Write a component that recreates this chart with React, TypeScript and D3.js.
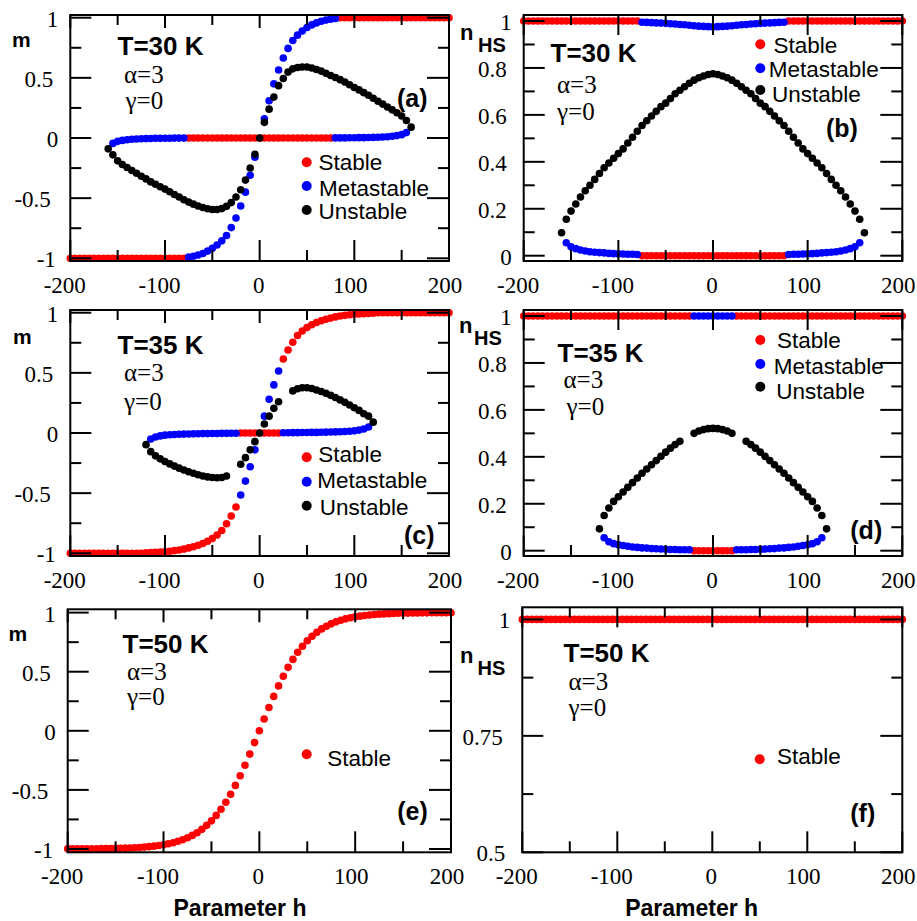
import React from "react";
import * as d3 from "d3";

type Pt = [number, number];
type Seg = [number, number, number];

const H_STEP = 5;
const X_DOMAIN: [number, number] = [-200, 200];
const X_MAJOR = [-200, -100, 0, 100, 200];
const X_MINOR = [-150, -50, 50, 150];
const M_MAJOR = [-1, -0.5, 0, 0.5, 1];
const M_MINOR = [-0.75, -0.25, 0.25, 0.75];
const N_MAJOR = [0, 0.2, 0.4, 0.6, 0.8, 1];
const N_MINOR = [0.1, 0.3, 0.5, 0.7, 0.9];
const NF_MAJOR = [0.5, 0.75, 1];
const NF_MINOR = [0.625, 0.875];

// ---------- (a) T=30 K, m ----------
const aStableFlat: Seg[] = [[-200, -80, -1], [-75, 75, 0], [85, 200, 1]];
const aMetaPts: Pt[] = [
  [-155, -0.045], [-150, -0.028], [-145, -0.02], [-140, -0.014], [-135, -0.011], [-130, -0.008], [-125, -0.006], [-120, -0.005], [-115, -0.004], [-110, -0.003], [-105, -0.003], [-100, -0.002], [-95, -0.002], [-90, -0.001], [-85, -0.001], [-80, -0.001],
  [-75, -0.99], [-70, -0.983], [-65, -0.973], [-60, -0.96], [-55, -0.94], [-50, -0.917], [-45, -0.89], [-40, -0.855], [-35, -0.81], [-30, -0.745], [-25, -0.665], [-20, -0.565], [-15, -0.45], [-10, -0.31], [-5, -0.16],
  [5, 0.16], [10, 0.31], [15, 0.45], [20, 0.565], [25, 0.665], [30, 0.745], [35, 0.81], [40, 0.855], [45, 0.89], [50, 0.918], [55, 0.94], [60, 0.957], [65, 0.97], [70, 0.98], [75, 0.988], [80, 0.994],
  [80, 0.001], [85, 0.001], [90, 0.001], [95, 0.002], [100, 0.002], [105, 0.003], [110, 0.003], [115, 0.004], [120, 0.005], [125, 0.006], [130, 0.008], [135, 0.011], [140, 0.014], [145, 0.02], [150, 0.028], [155, 0.045],
];
const aUnstablePts: Pt[] = [
  [-160, -0.09], [-155, -0.14], [-150, -0.19], [-145, -0.22], [-140, -0.245], [-135, -0.27], [-130, -0.293], [-125, -0.318], [-120, -0.34], [-115, -0.365], [-110, -0.385], [-105, -0.405], [-100, -0.425], [-95, -0.447], [-90, -0.47], [-85, -0.49], [-80, -0.513], [-75, -0.533], [-70, -0.55], [-65, -0.565], [-60, -0.578], [-55, -0.588], [-50, -0.594], [-45, -0.595], [-40, -0.587], [-35, -0.568], [-30, -0.537], [-25, -0.49], [-20, -0.43], [-15, -0.35], [-10, -0.25], [-5, -0.135], [0, 0],
  [5, 0.13], [10, 0.24], [15, 0.34], [20, 0.435], [25, 0.495], [30, 0.548], [35, 0.575], [40, 0.586], [45, 0.59], [50, 0.59], [55, 0.582], [60, 0.57], [65, 0.556], [70, 0.538], [75, 0.52], [80, 0.503], [85, 0.485], [90, 0.465], [95, 0.443], [100, 0.42], [105, 0.4], [110, 0.377], [115, 0.355], [120, 0.33], [125, 0.306], [130, 0.282], [135, 0.258], [140, 0.234], [145, 0.21], [150, 0.183], [155, 0.145], [160, 0.09],
];

// ---------- (b) T=30 K, nHS ----------
const bStableFlat: Seg[] = [[-200, -80, 1], [80, 200, 1], [-75, 75, 0]];
const bMetaPts: Pt[] = [
  [-75, 0.995], [-70, 0.994], [-65, 0.993], [-60, 0.992], [-55, 0.991], [-50, 0.99], [-45, 0.988], [-40, 0.987], [-35, 0.985], [-30, 0.984], [-25, 0.982], [-20, 0.98], [-15, 0.978], [-10, 0.977], [-5, 0.976], [0, 0.975],
  [5, 0.976], [10, 0.977], [15, 0.978], [20, 0.98], [25, 0.982], [30, 0.984], [35, 0.985], [40, 0.987], [45, 0.988], [50, 0.99], [55, 0.991], [60, 0.992], [65, 0.993], [70, 0.994], [75, 0.995],
  [-155, 0.055], [-150, 0.038], [-145, 0.03], [-140, 0.024], [-135, 0.02], [-130, 0.017], [-125, 0.015], [-120, 0.013], [-115, 0.012], [-110, 0.01], [-105, 0.009], [-100, 0.008], [-95, 0.007], [-90, 0.006], [-85, 0.006], [-80, 0.005],
  [80, 0.005], [85, 0.006], [90, 0.006], [95, 0.007], [100, 0.008], [105, 0.009], [110, 0.01], [115, 0.012], [120, 0.013], [125, 0.015], [130, 0.017], [135, 0.02], [140, 0.024], [145, 0.03], [150, 0.038], [155, 0.055],
];
const bUnstablePts: Pt[] = [
  [-160, 0.098], [-155, 0.155], [-150, 0.19], [-145, 0.22], [-140, 0.25], [-135, 0.277], [-130, 0.3], [-125, 0.325], [-120, 0.35], [-115, 0.375], [-110, 0.395], [-105, 0.415], [-100, 0.435], [-95, 0.455], [-90, 0.48], [-85, 0.505], [-80, 0.53], [-75, 0.555], [-70, 0.575], [-65, 0.595], [-60, 0.615], [-55, 0.635], [-50, 0.65], [-45, 0.67], [-40, 0.69], [-35, 0.705], [-30, 0.72], [-25, 0.735], [-20, 0.748], [-15, 0.758], [-10, 0.766], [-5, 0.772], [0, 0.775],
  [5, 0.772], [10, 0.766], [15, 0.758], [20, 0.748], [25, 0.735], [30, 0.72], [35, 0.705], [40, 0.69], [45, 0.67], [50, 0.65], [55, 0.635], [60, 0.615], [65, 0.595], [70, 0.575], [75, 0.555], [80, 0.53], [85, 0.505], [90, 0.48], [95, 0.455], [100, 0.435], [105, 0.415], [110, 0.395], [115, 0.375], [120, 0.35], [125, 0.325], [130, 0.3], [135, 0.277], [140, 0.25], [145, 0.22], [150, 0.19], [155, 0.155], [160, 0.098],
];

// ---------- (c) T=35 K, m ----------
const cStableFlat: Seg[] = [[-200, -125, -1], [-20, 20, 0], [125, 200, 1]];
const cStablePts: Pt[] = [
  [-120, -0.995], [-115, -0.994], [-110, -0.992], [-105, -0.99], [-100, -0.987], [-95, -0.983], [-90, -0.978], [-85, -0.972], [-80, -0.965], [-75, -0.955], [-70, -0.945], [-65, -0.933], [-60, -0.918], [-55, -0.9], [-50, -0.877], [-45, -0.848], [-40, -0.81], [-35, -0.755], [-30, -0.69], [-25, -0.615],
  [25, 0.615], [30, 0.69], [35, 0.755], [40, 0.81], [45, 0.848], [50, 0.877], [55, 0.9], [60, 0.918], [65, 0.933], [70, 0.945], [75, 0.955], [80, 0.965], [85, 0.972], [90, 0.978], [95, 0.983], [100, 0.987], [105, 0.99], [110, 0.992], [115, 0.994], [120, 0.995],
];
const cMetaPts: Pt[] = [
  [-20, -0.515], [-15, -0.4], [-10, -0.28], [-5, -0.14], [5, 0.14], [10, 0.28], [15, 0.4], [20, 0.515],
  [-115, -0.05], [-110, -0.033], [-105, -0.024], [-100, -0.018], [-95, -0.014], [-90, -0.012], [-85, -0.01], [-80, -0.009], [-75, -0.008], [-70, -0.007], [-65, -0.006], [-60, -0.005], [-55, -0.005], [-50, -0.004], [-45, -0.004], [-40, -0.003], [-35, -0.003], [-30, -0.002], [-25, -0.002],
  [25, 0.002], [30, 0.002], [35, 0.003], [40, 0.003], [45, 0.004], [50, 0.004], [55, 0.005], [60, 0.005], [65, 0.006], [70, 0.007], [75, 0.008], [80, 0.009], [85, 0.01], [90, 0.012], [95, 0.014], [100, 0.018], [105, 0.024], [110, 0.033], [115, 0.05],
];
const cUnstablePts: Pt[] = [
  [-120, -0.097], [-115, -0.155], [-110, -0.19], [-105, -0.215], [-100, -0.237], [-95, -0.257], [-90, -0.275], [-85, -0.292], [-80, -0.308], [-75, -0.322], [-70, -0.335], [-65, -0.347], [-60, -0.357], [-55, -0.365], [-50, -0.37], [-45, -0.372], [-40, -0.37], [-35, -0.358],
  [-20, -0.26], [-15, -0.205], [-10, -0.14], [-5, -0.072], [0, 0], [5, 0.075], [10, 0.14], [15, 0.205], [20, 0.26],
  [35, 0.35], [40, 0.368], [45, 0.376], [50, 0.376], [55, 0.37], [60, 0.358], [65, 0.345], [70, 0.33], [75, 0.313], [80, 0.295], [85, 0.275], [90, 0.255], [95, 0.233], [100, 0.21], [105, 0.188], [110, 0.16], [115, 0.14], [120, 0.09],
];

// ---------- (d) T=35 K, nHS ----------
const dStableFlat: Seg[] = [[-200, -25, 1], [25, 200, 1], [-20, 20, 0]];
const dMetaFlat: Seg[] = [[-20, 20, 1]];
const dMetaPts: Pt[] = [
  [-115, 0.055], [-110, 0.038], [-105, 0.03], [-100, 0.025], [-95, 0.022], [-90, 0.019], [-85, 0.016], [-80, 0.014], [-75, 0.012], [-70, 0.011], [-65, 0.009], [-60, 0.008], [-55, 0.007], [-50, 0.006], [-45, 0.005], [-40, 0.005], [-35, 0.004], [-30, 0.004], [-25, 0.004],
  [25, 0.004], [30, 0.004], [35, 0.004], [40, 0.005], [45, 0.005], [50, 0.006], [55, 0.007], [60, 0.008], [65, 0.009], [70, 0.011], [75, 0.012], [80, 0.014], [85, 0.016], [90, 0.019], [95, 0.022], [100, 0.025], [105, 0.03], [110, 0.038], [115, 0.055],
];
const dUnstablePts: Pt[] = [
  [-120, 0.093], [-115, 0.15], [-110, 0.182], [-105, 0.21], [-100, 0.23], [-95, 0.25], [-90, 0.27], [-85, 0.29], [-80, 0.31], [-75, 0.33], [-70, 0.348], [-65, 0.366], [-60, 0.384], [-55, 0.402], [-50, 0.42], [-45, 0.437], [-40, 0.452], [-35, 0.466],
  [-20, 0.5], [-15, 0.51], [-10, 0.516], [-5, 0.52], [0, 0.521], [5, 0.52], [10, 0.516], [15, 0.51], [20, 0.5],
  [35, 0.466], [40, 0.452], [45, 0.437], [50, 0.42], [55, 0.402], [60, 0.384], [65, 0.366], [70, 0.348], [75, 0.33], [80, 0.31], [85, 0.29], [90, 0.27], [95, 0.25], [100, 0.23], [105, 0.21], [110, 0.182], [115, 0.15], [120, 0.093],
];

// ---------- (e) T=50 K, m ----------
const eStablePts: Pt[] = [
  [-200, -0.999], [-195, -0.999], [-190, -0.999], [-185, -0.999], [-180, -0.999], [-175, -0.998], [-170, -0.998], [-165, -0.997], [-160, -0.997], [-155, -0.996], [-150, -0.995], [-145, -0.994], [-140, -0.993], [-135, -0.991], [-130, -0.989], [-125, -0.987], [-120, -0.984], [-115, -0.98], [-110, -0.976], [-105, -0.97], [-100, -0.964], [-95, -0.956], [-90, -0.947], [-85, -0.935], [-80, -0.922], [-75, -0.905], [-70, -0.885], [-65, -0.862], [-60, -0.834], [-55, -0.8], [-50, -0.762], [-45, -0.716], [-40, -0.664], [-35, -0.604], [-30, -0.537], [-25, -0.462], [-20, -0.38], [-15, -0.291], [-10, -0.197], [-5, -0.1],
  [0, 0],
  [5, 0.1], [10, 0.197], [15, 0.291], [20, 0.38], [25, 0.462], [30, 0.537], [35, 0.604], [40, 0.664], [45, 0.716], [50, 0.762], [55, 0.8], [60, 0.834], [65, 0.862], [70, 0.885], [75, 0.905], [80, 0.922], [85, 0.935], [90, 0.947], [95, 0.956], [100, 0.964], [105, 0.97], [110, 0.976], [115, 0.98], [120, 0.984], [125, 0.987], [130, 0.989], [135, 0.991], [140, 0.993], [145, 0.994], [150, 0.995], [155, 0.996], [160, 0.997], [165, 0.997], [170, 0.998], [175, 0.998], [180, 0.999], [185, 0.999], [190, 0.999], [195, 0.999], [200, 0.999],
];

// ---------- (f) T=50 K, nHS ----------
const fStableFlat: Seg[] = [[-200, 200, 1]];

const expand = (segs: Seg[]): Pt[] =>
  segs.flatMap(([a, b, v]) => d3.range(a, b + H_STEP / 2, H_STEP).map((h) => [h, v] as Pt));

type Kind = "stable" | "meta" | "unstable";
const COLORS: Record<Kind, string> = { stable: "#ff0000", meta: "#0000ff", unstable: "#000000" };
const LEGEND_TEXT: Record<Kind, string> = { stable: "Stable", meta: "Metastable", unstable: "Unstable" };

const SERIF = { fontFamily: "Liberation Serif" };
const SANS = { fontFamily: "Liberation Sans" };

interface PanelDef {
  frame: [number, number, number, number];
  yDomain: [number, number];
  yMajor: number[];
  yMinor: number[];
  topMajor: number;
  series: { kind: Kind; pts: Pt[] }[];
  yLabel: "m" | "n";
  yLabelPos: [number, number];
  subPos?: [number, number];
  temp: string;
  tPos: [number, number];
  alphaPos: [number, number];
  gammaPos: [number, number];
  letter: string;
  letterPos: [number, number];
  legendKinds: Kind[];
  legendDotX: number;
  legendTextX: number[];
  legendRows: [number, number][];
  xTitle?: [number, number];
}

const PANELS: PanelDef[] = [
  {
    frame: [70.3, 15, 449, 261], yDomain: [-1.0225, 1.0225], yMajor: M_MAJOR, yMinor: M_MINOR, topMajor: 13,
    series: [
      { kind: "stable", pts: expand(aStableFlat) },
      { kind: "meta", pts: aMetaPts },
      { kind: "unstable", pts: aUnstablePts },
    ],
    yLabel: "m", yLabelPos: [12, 47], temp: "T=30 K", tPos: [117.5, 55], alphaPos: [124, 83], gammaPos: [125.5, 108.5],
    letter: "(a)", letterPos: [397, 107],
    legendKinds: ["stable", "meta", "unstable"], legendDotX: 306.7, legendTextX: [318.5, 319, 318.5],
    legendRows: [[162.3, 170], [186, 196], [210, 218.5]],
  },
  {
    frame: [523.7, 15, 902.3, 261], yDomain: [-0.0226, 1.0256], yMajor: N_MAJOR, yMinor: N_MINOR, topMajor: 20,
    series: [
      { kind: "stable", pts: expand(bStableFlat) },
      { kind: "meta", pts: bMetaPts },
      { kind: "unstable", pts: bUnstablePts },
    ],
    yLabel: "n", yLabelPos: [460, 40], subPos: [478, 52], temp: "T=30 K", tPos: [550.5, 61.7], alphaPos: [557, 93.3], gammaPos: [557, 120],
    letter: "(b)", letterPos: [826, 137],
    legendKinds: ["stable", "meta", "unstable"], legendDotX: 760.3, legendTextX: [773.5, 768.7, 772],
    legendRows: [[44.3, 53.3], [68.3, 76.7], [90, 101.7]],
  },
  {
    frame: [70.3, 310, 449, 556], yDomain: [-1.0225, 1.0225], yMajor: M_MAJOR, yMinor: M_MINOR, topMajor: 13,
    series: [
      { kind: "stable", pts: [...expand(cStableFlat), ...cStablePts] },
      { kind: "meta", pts: cMetaPts },
      { kind: "unstable", pts: cUnstablePts },
    ],
    yLabel: "m", yLabelPos: [13, 344], temp: "T=35 K", tPos: [117.5, 354.3], alphaPos: [124, 381], gammaPos: [124, 410],
    letter: "(c)", letterPos: [404, 543.5],
    legendKinds: ["stable", "meta", "unstable"], legendDotX: 306.7, legendTextX: [318.3, 317.3, 319.7],
    legendRows: [[457.3, 461.7], [481.7, 488.3], [505.7, 515]],
  },
  {
    frame: [523.7, 310, 902.3, 556], yDomain: [-0.0226, 1.0256], yMajor: N_MAJOR, yMinor: N_MINOR, topMajor: 20,
    series: [
      { kind: "stable", pts: expand(dStableFlat) },
      { kind: "meta", pts: [...expand(dMetaFlat), ...dMetaPts] },
      { kind: "unstable", pts: dUnstablePts },
    ],
    yLabel: "n", yLabelPos: [459, 333], subPos: [474, 345], temp: "T=35 K", tPos: [557.5, 361.7], alphaPos: [563.5, 388.3], gammaPos: [566.5, 415],
    letter: "(d)", letterPos: [850.3, 538.5],
    legendKinds: ["stable", "meta", "unstable"], legendDotX: 760.3, legendTextX: [777, 773.7, 776.3],
    legendRows: [[340, 348.3], [364, 374], [386.7, 399.3]],
  },
  {
    frame: [67.7, 609.3, 451, 852.3], yDomain: [-1.028, 1.028], yMajor: M_MAJOR, yMinor: M_MINOR, topMajor: 13,
    series: [{ kind: "stable", pts: eStablePts }],
    yLabel: "m", yLabelPos: [8.5, 640.7], temp: "T=50 K", tPos: [122.5, 653.3], alphaPos: [127, 680], gammaPos: [127, 705],
    letter: "(e)", letterPos: [397.3, 820],
    legendKinds: ["stable"], legendDotX: 306.7, legendTextX: [327.3],
    legendRows: [[754.3, 766]],
    xTitle: [240, 916],
  },
  {
    frame: [522.3, 607.3, 902.3, 852.3], yDomain: [0.5, 1.026], yMajor: NF_MAJOR, yMinor: NF_MINOR, topMajor: 20,
    series: [{ kind: "stable", pts: expand(fStableFlat) }],
    yLabel: "n", yLabelPos: [460, 663], subPos: [477.5, 675], temp: "T=50 K", tPos: [563.5, 661.7], alphaPos: [568.5, 690], gammaPos: [568.5, 716],
    letter: "(f)", letterPos: [850.3, 822],
    legendKinds: ["stable"], legendDotX: 759.7, legendTextX: [777],
    legendRows: [[759.3, 764]],
    xTitle: [691.7, 916],
  },
];

const fmt = (v: number) => String(v);

function Panel({ p }: { p: PanelDef }) {
  const [x0, y0, x1, y1] = p.frame;
  const xs = d3.scaleLinear().domain(X_DOMAIN).range([x0, x1]);
  const ys = d3.scaleLinear().domain(p.yDomain).range([y1, y0]);
  const R = 3.8;
  const tickStroke = { stroke: "#000", strokeWidth: 2 };
  return (
    <g>
      {p.series.map((s, si) => (
        <g key={si} fill={COLORS[s.kind]}>
          {s.pts.map(([h, v], i) => (
            <circle key={i} cx={xs(h)} cy={ys(v)} r={R} />
          ))}
        </g>
      ))}
      {X_MAJOR.map((v) => (
        <g key={"xM" + v}>
          <line x1={xs(v)} x2={xs(v)} y1={y1} y2={y1 - 21} {...tickStroke} />
          <line x1={xs(v)} x2={xs(v)} y1={y0} y2={y0 + p.topMajor} {...tickStroke} />
        </g>
      ))}
      {X_MINOR.map((v) => (
        <g key={"xm" + v}>
          <line x1={xs(v)} x2={xs(v)} y1={y1} y2={y1 - 11} {...tickStroke} />
          <line x1={xs(v)} x2={xs(v)} y1={y0} y2={y0 + 10} {...tickStroke} />
        </g>
      ))}
      {p.yMajor.map((v) => (
        <g key={"yM" + v}>
          <line x1={x0} x2={x0 + 21} y1={ys(v)} y2={ys(v)} {...tickStroke} />
          <line x1={x1} x2={x1 - 22} y1={ys(v)} y2={ys(v)} {...tickStroke} />
        </g>
      ))}
      {p.yMinor.map((v) => (
        <g key={"ym" + v}>
          <line x1={x0} x2={x0 + 11} y1={ys(v)} y2={ys(v)} {...tickStroke} />
          <line x1={x1} x2={x1 - 11} y1={ys(v)} y2={ys(v)} {...tickStroke} />
        </g>
      ))}
      <rect x={x0} y={y0} width={x1 - x0} height={y1 - y0} fill="none" stroke="#000" strokeWidth={2} />
      {X_MAJOR.map((v) => {
        const t = fmt(v);
        return (
          <text key={"xl" + v} style={SERIF} fontSize={23} x={xs(v) - 1 - 1.5 * (t.length - 1)} y={y1 + 32} textAnchor="middle">
            {t}
          </text>
        );
      })}
      {p.yMajor.map((v) => {
        const t = fmt(v);
        return (
          <text key={"yl" + v} style={SERIF} fontSize={23} x={x0 - 12 - 2.5 * (t.length - 1)} y={ys(v) + 9} textAnchor="end">
            {t}
          </text>
        );
      })}
      {p.yLabel === "m" ? (
        <text x={p.yLabelPos[0]} y={p.yLabelPos[1]} style={SANS} fontWeight="bold" fontSize={21}>
          m
        </text>
      ) : (
        <>
          <text x={p.yLabelPos[0]} y={p.yLabelPos[1]} style={SANS} fontWeight="bold" fontSize={22}>n</text>
          <text x={p.subPos![0]} y={p.subPos![1]} style={SANS} fontWeight="bold" fontSize={20}>HS</text>
        </>
      )}
      <text x={p.tPos[0]} y={p.tPos[1]} style={SANS} fontWeight="bold" fontSize={26}>
        {p.temp}
      </text>
      <text x={p.alphaPos[0]} y={p.alphaPos[1]} style={SERIF} fontSize={25}>
        α=3
      </text>
      <text x={p.gammaPos[0]} y={p.gammaPos[1]} style={SERIF} fontSize={25}>
        γ=0
      </text>
      <text x={p.letterPos[0]} y={p.letterPos[1]} style={SANS} fontWeight="bold" fontSize={25}>
        {p.letter}
      </text>
      {p.legendKinds.map((k, i) => (
        <g key={"lg" + k}>
          <circle cx={p.legendDotX} cy={p.legendRows[i][0]} r={5} fill={COLORS[k]} />
          <text x={p.legendTextX[i]} y={p.legendRows[i][1]} style={SANS} fontSize={22.5}>
            {LEGEND_TEXT[k]}
          </text>
        </g>
      ))}
      {p.xTitle && (
        <text x={p.xTitle[0]} y={p.xTitle[1]} style={SANS} fontWeight="bold" fontSize={23} textAnchor="middle">
          Parameter h
        </text>
      )}
    </g>
  );
}

export default function App() {
  return (
    <svg
      width={917}
      height={921}
      viewBox="0 0 917 921"
      style={{ position: "absolute", left: 0, top: 0, background: "#fff" }}
    >
      <rect x={0} y={0} width={917} height={921} fill="#fff" />
      {PANELS.map((p, i) => (
        <Panel key={i} p={p} />
      ))}
    </svg>
  );
}
